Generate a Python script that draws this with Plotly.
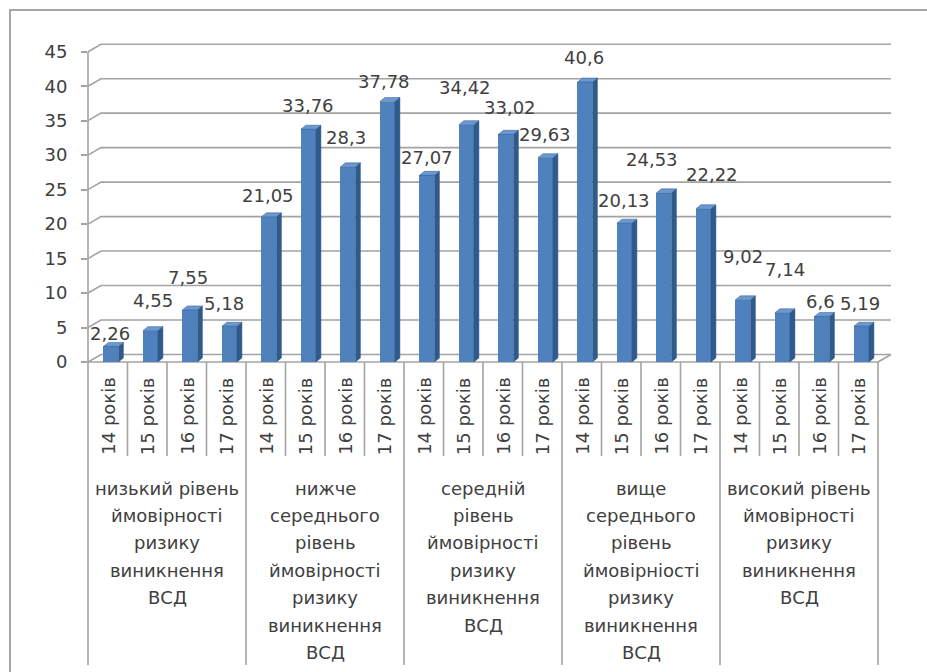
import plotly.graph_objects as go

# ---------------- data ----------------
ages = ["14 років", "15 років", "16 років", "17 років"]
group_names = [
    "низький рівень\nймовірності\nризику\nвиникнення\nВСД",
    "нижче\nсереднього\nрівень\nймовірності\nризику\nвиникнення\nВСД",
    "середній\nрівень\nймовірності\nризику\nвиникнення\nВСД",
    "вище\nсереднього\nрівень\nймовірніості\nризику\nвиникнення\nВСД",
    "високий рівень\nймовірності\nризику\nвиникнення\nВСД",
]
low = [2.26, 4.55, 7.55, 5.18]
below_mid = [21.05, 33.76, 28.3, 37.78]
mid = [27.07, 34.42, 33.02, 29.63]
above_mid = [40.6, 20.13, 24.53, 22.22]
high = [9.02, 7.14, 6.6, 5.19]
y_ticks = [0, 5, 10, 15, 20, 25, 30, 35, 40, 45]

series = [low, below_mid, mid, above_mid, high]
values = [v for s in series for v in s]
n = len(values)
xs = list(range(n))

# ---------------- geometry / style ----------------
W, H = 927, 672
PL, PR, PT, PB = 88, 893, 40, 362          # plot area in pixels
SLOT = 39.5                                  # px per category
XMIN = -0.5
XMAX = XMIN + (PR - PL) / SLOT
YMAX = 46.7
YS = (PB - PT) / YMAX                        # px per unit
DX, DY = 13 / SLOT, 7.5 / YS                 # wall depth
BW, BOFF = 0.38, 0.08                        # bar width / shift
SDX, SDY = 5 / SLOT, 4 / YS                  # bar depth

FONT = "DejaVu Sans"
TXT = "#404040"
GRID = "#A3A3A3"
FRONT, SIDE, TOP = "#4F81BD", "#2E5A8C", "#6A98CF"

# label offsets (px) relative to bar top-centre
lab_dx = [-1, 3, -2, -5, -1, 0, -2, -3, 0, -1, 4, 0, -1, 0, -12, 9, 0, 3, -1, -1]
lab_dy = [13, 30, 32, 23, 21, 24, 29, 20, 18, 37, 27, 23, 25, 23, 33, 34, 43, 43, 15, 23]


def px_x(xd):
    return (xd - XMIN) / (XMAX - XMIN)


def px_y(yd):
    return yd / YMAX


def pp_x(p):
    return (p - PL) / (PR - PL)


def pp_y(p):
    return (PB - p) / (PB - PT)


def line(x0, y0, x1, y1, color=GRID, width=1.6):
    return dict(type="line", xref="paper", yref="paper", x0=x0, y0=y0, x1=x1, y1=y1,
                line=dict(color=color, width=width), layer="below")


fig = go.Figure()

# front faces
fig.add_trace(go.Bar(x=[x + BOFF for x in xs], y=values, width=BW,
                     marker=dict(color=FRONT, line=dict(width=0)), hoverinfo="skip"))

# side and top faces
sx, sy, tx, ty = [], [], [], []
for x, v in zip(xs, values):
    x0 = x + BOFF - BW / 2
    x1 = x + BOFF + BW / 2
    sx += [x1, x1 + SDX, x1 + SDX, x1, x1, None]
    sy += [0, SDY, v + SDY, v, 0, None]
    tx += [x0, x0 + SDX, x1 + SDX, x1, x0, None]
    ty += [v, v + SDY, v + SDY, v, v, None]
fig.add_trace(go.Scatter(x=sx, y=sy, mode="lines", fill="toself", fillcolor=SIDE,
                         line=dict(color=SIDE, width=0.5), hoverinfo="skip"))
fig.add_trace(go.Scatter(x=tx, y=ty, mode="lines", fill="toself", fillcolor=TOP,
                         line=dict(color=SIDE, width=0.5), hoverinfo="skip"))

shapes = []
# outer border
shapes.append(dict(type="rect", xref="paper", yref="paper",
                   x0=pp_x(10), y0=pp_y(700), x1=pp_x(960), y1=pp_y(10),
                   line=dict(color="#A6A6A6", width=2), fillcolor="rgba(0,0,0,0)", layer="below"))
# back-wall gridlines
xr = n - 0.5 + DX
for v in y_ticks:
    shapes.append(dict(type="path", xref="paper", yref="paper",
                       path=f"M {px_x(XMIN)},{px_y(v)} L {px_x(XMIN + DX)},{px_y(v + DY)} L {px_x(xr)},{px_y(v + DY)}",
                       line=dict(color=GRID, width=1.6), layer="below"))
# floor
shapes.append(line(px_x(XMIN), 0, px_x(n - 0.5), 0))
shapes.append(line(px_x(n - 0.5), 0, px_x(xr), px_y(DY)))
# y axis line
shapes.append(line(px_x(XMIN), 0, px_x(XMIN), px_y(y_ticks[-1])))
# category dividers
for k in range(n + 1):
    bottom = 665 if k % 4 == 0 else 456
    shapes.append(line(px_x(k - 0.5), 0, px_x(k - 0.5), pp_y(bottom)))

annotations = []
# data labels
for i, (x, v) in enumerate(zip(xs, values)):
    annotations.append(dict(x=x + BOFF, y=v, xref="x", yref="y", text=f"{v:g}".replace(".", ","),
                            showarrow=False, xanchor="center", yanchor="middle",
                            xshift=lab_dx[i], yshift=lab_dy[i],
                            font=dict(family=FONT, size=18, color=TXT)))
# age labels
for i in xs:
    annotations.append(dict(x=px_x(i), y=pp_y(416), xref="paper", yref="paper",
                            text=ages[i % 4], textangle=-90, showarrow=False,
                            xanchor="center", yanchor="middle",
                            font=dict(family=FONT, size=18, color=TXT)))
# group labels
for g, name in enumerate(group_names):
    for j, ln in enumerate(name.split("\n")):
        annotations.append(dict(x=px_x(4 * g + 1.5), y=pp_y(488 + 27.4 * j), xref="paper", yref="paper",
                                text=ln, showarrow=False, xanchor="center", yanchor="middle",
                                font=dict(family=FONT, size=18, color=TXT)))

fig.update_layout(
    width=W, height=H,
    margin=dict(l=PL, r=W - PR, t=PT, b=H - PB, pad=0),
    paper_bgcolor="white", plot_bgcolor="white",
    showlegend=False, bargap=0,
    xaxis=dict(range=[XMIN, XMAX], visible=False, fixedrange=True),
    yaxis=dict(range=[0, YMAX], tickvals=y_ticks, ticktext=[str(t) for t in y_ticks],
               ticks="outside", ticklen=6, tickwidth=1.6, tickcolor=GRID,
               ticklabelstandoff=10,
               showgrid=False, zeroline=False, showline=False,
               tickfont=dict(family=FONT, size=18, color=TXT), fixedrange=True),
    shapes=shapes, annotations=annotations,
)

fig.write_html("out.html")
